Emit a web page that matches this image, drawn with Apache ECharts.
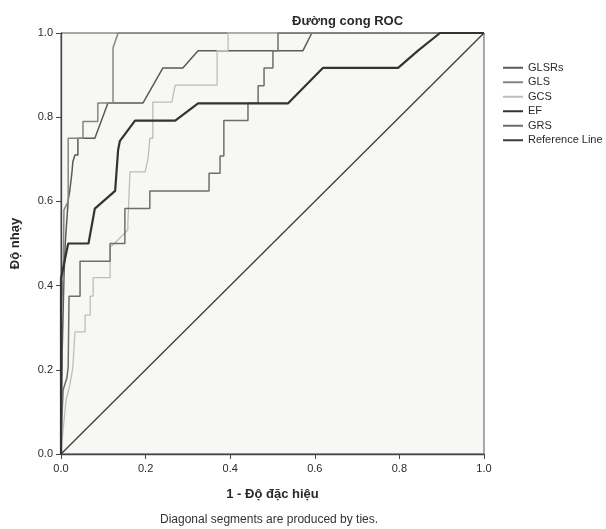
<!DOCTYPE html>
<html>
<head>
<meta charset="utf-8">
<title>Đường cong ROC</title>
<script src="https://cdn.jsdelivr.net/npm/echarts@6/dist/echarts.min.js"></script>
<style>
  html, body { margin: 0; padding: 0; background: #ffffff; }
  #chart { width: 606px; height: 529px; }
</style>
</head>
<body>
<div id="chart"></div>
<script>
// ROC curves: x = 1 - specificity, y = sensitivity
const seriesNames = ['GLSRs', 'GLS', 'GCS', 'EF', 'GRS', 'Reference Line'];

const glsrsX = [0, 0.003, 0.007, 0.01, 0.017, 0.021, 0.026, 0.028, 0.033, 0.04, 0.04, 0.08, 0.111, 0.194, 0.241, 0.288, 0.324, 0.572, 0.593, 1];
const glsrsY = [0, 0.25, 0.42, 0.5, 0.603, 0.627, 0.67, 0.694, 0.71, 0.71, 0.75, 0.75, 0.834, 0.834, 0.917, 0.917, 0.958, 0.958, 1, 1];

const glsX = [0, 0, 0.005, 0.007, 0.017, 0.017, 0.052, 0.052, 0.087, 0.087, 0.123, 0.123, 0.135, 1];
const glsY = [0, 0.33, 0.42, 0.58, 0.6, 0.75, 0.75, 0.79, 0.79, 0.834, 0.834, 0.965, 1, 1];

const gcsX = [0, 0.005, 0.012, 0.021, 0.028, 0.033, 0.057, 0.057, 0.069, 0.069, 0.076, 0.076, 0.116, 0.116, 0.123, 0.158, 0.158, 0.163, 0.199, 0.206, 0.21, 0.217, 0.217, 0.262, 0.27, 0.369, 0.369, 0.395, 0.395, 1];
const gcsY = [0, 0.057, 0.128, 0.164, 0.206, 0.29, 0.29, 0.33, 0.33, 0.375, 0.375, 0.419, 0.419, 0.492, 0.497, 0.532, 0.545, 0.67, 0.67, 0.703, 0.75, 0.75, 0.836, 0.836, 0.876, 0.876, 0.958, 0.958, 1, 1];

const efX = [0, 0, 0.017, 0.065, 0.08, 0.128, 0.135, 0.139, 0.175, 0.27, 0.324, 0.537, 0.619, 0.797, 0.844, 0.896, 1];
const efY = [0, 0.417, 0.5, 0.5, 0.583, 0.625, 0.722, 0.743, 0.792, 0.792, 0.833, 0.833, 0.917, 0.917, 0.958, 1, 1];

const grsX = [0, 0.002, 0.005, 0.014, 0.017, 0.019, 0.045, 0.045, 0.116, 0.116, 0.151, 0.151, 0.21, 0.21, 0.35, 0.35, 0.376, 0.376, 0.385, 0.385, 0.442, 0.442, 0.466, 0.466, 0.48, 0.48, 0.501, 0.501, 0.513, 0.513, 1];
const grsY = [0, 0.08, 0.152, 0.181, 0.207, 0.375, 0.375, 0.458, 0.458, 0.5, 0.5, 0.583, 0.583, 0.625, 0.625, 0.667, 0.667, 0.708, 0.708, 0.792, 0.792, 0.833, 0.833, 0.875, 0.875, 0.917, 0.917, 0.958, 0.958, 1, 1];

const refX = [0, 1];
const refY = [0, 1];

const tickLabels = ['0.0', '0.2', '0.4', '0.6', '0.8', '1.0'];

const zip = (xs, ys) => xs.map((x, i) => [x, ys[i]]);

const curveData = [
  zip(glsrsX, glsrsY),
  zip(glsX, glsY),
  zip(gcsX, gcsY),
  zip(efX, efY),
  zip(grsX, grsY),
  zip(refX, refY),
];
const curveColors = ['#5a5a5a', '#858585', '#bdbdbd', '#333333', '#6e6e6e', '#3c3c3c'];
const curveWidths = [1.5, 1.5, 1.3, 2.2, 1.5, 1.3];

const font = 'Liberation Sans, Arial, sans-serif';
const tickFormatter = (v) => tickLabels[Math.round(v * 5)];

const chart = echarts.init(document.getElementById('chart'), null, { renderer: 'canvas' });

const option = {
  animation: false,
  backgroundColor: '#ffffff',
  textStyle: { fontFamily: font },
  title: {
    text: 'Đường cong ROC',
    left: 287,
    top: 10,
    textStyle: { fontSize: 13, fontWeight: 'bold', color: '#2a2a2a', fontFamily: font },
  },
  legend: {
    orient: 'vertical',
    left: 498,
    top: 56,
    icon: 'rect',
    itemWidth: 20,
    itemHeight: 2,
    itemGap: 1,
    data: seriesNames,
    textStyle: { fontSize: 11, color: '#2a2a2a', lineHeight: 13.5, fontFamily: font },
  },
  grid: {
    left: 61,
    right: 122,
    top: 33,
    bottom: 75,
    show: true,
    backgroundColor: '#f7f7f3',
    borderColor: '#555',
    borderWidth: 1,
  },
  xAxis: {
    type: 'value',
    min: 0,
    max: 1,
    interval: 0.2,
    name: '1 - Độ đặc hiệu',
    nameLocation: 'middle',
    nameGap: 34,
    nameTextStyle: { fontSize: 13, fontWeight: 'bold', color: '#2a2a2a', fontFamily: font },
    axisLine: { lineStyle: { color: '#444', width: 1.3 } },
    axisTick: { length: 5, lineStyle: { color: '#444' } },
    axisLabel: { formatter: tickFormatter, fontSize: 11, color: '#2a2a2a', margin: 9, fontFamily: font },
    splitLine: { show: false },
  },
  yAxis: {
    type: 'value',
    min: 0,
    max: 1,
    interval: 0.2,
    name: 'Độ nhạy',
    nameLocation: 'middle',
    nameGap: 39,
    nameTextStyle: { fontSize: 13, fontWeight: 'bold', color: '#2a2a2a', fontFamily: font },
    axisLine: { lineStyle: { color: '#444', width: 1.3 } },
    axisTick: { length: 5, lineStyle: { color: '#444' } },
    axisLabel: { formatter: tickFormatter, fontSize: 11, color: '#2a2a2a', margin: 8, fontFamily: font },
    splitLine: { show: false },
  },
  graphic: [
    {
      type: 'text',
      left: 160,
      top: 514,
      style: { text: 'Diagonal segments are produced by ties.', fill: '#333', font: '12px ' + font },
    },
  ],
  series: seriesNames.map((name, i) => ({
    name,
    type: 'line',
    data: curveData[i],
    showSymbol: false,
    symbol: 'none',
    color: curveColors[i],
    lineStyle: { color: curveColors[i], width: curveWidths[i] },
    z: i === 3 ? 5 : 2,
  })),
};

chart.setOption(option);
</script>
</body>
</html>
